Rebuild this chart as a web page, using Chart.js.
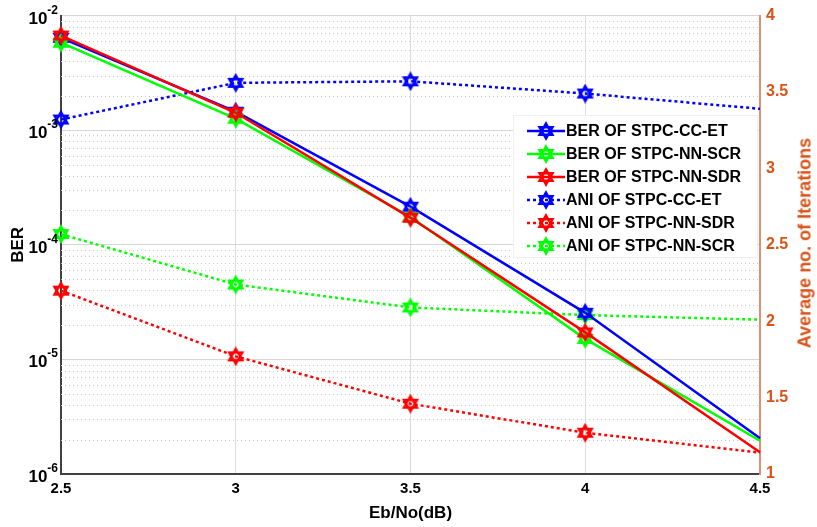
<!DOCTYPE html>
<html lang="en">
<head>
<meta charset="UTF-8" />
<title>BER and ANI vs Eb/No</title>
<script src="https://cdn.jsdelivr.net/npm/chart.js"></script>
<style>
  body { margin: 0; background: #fff; font-family: "Liberation Sans", Arial, sans-serif; }
  #wrap { position: relative; width: 817px; height: 527px; }
  #legend { position: absolute; left: 513px; top: 115px; width: 245px; height: 143px; background: #fff;
            border: 1px solid #efefef; box-sizing: border-box; padding-top: 3px; }
  .row { display: flex; align-items: center; height: 23px; }
  .row canvas { margin-left: 13px; margin-right: 1px; }
  .row span { font-weight: bold; font-size: 16px; color: #000; white-space: nowrap; }
  #rightTitle { position: absolute; left: 805px; top: 243px; transform: translate(-50%, -50%) rotate(-90deg);
                white-space: nowrap; color: #D95319; font-weight: bold; font-size: 18px; }
</style>
</head>
<body>
<div id="wrap">
  <canvas id="berChart"></canvas>
  <div id="legend"></div>
  <div id="rightTitle">Average no. of Iterations</div>
</div>

<script>
  // Eb/No (dB)
  const ebno = [2.5, 3, 3.5, 4, 4.5];

  // BER curves (left log axis)
  const berCCET  = [6.4e-3, 1.45e-3, 2.15e-4, 2.55e-5, 2.05e-6];
  const berNNSCR = [5.8e-3, 1.26e-3, 1.75e-4, 1.51e-5, 1.95e-6];
  const berNNSDR = [6.7e-3, 1.42e-3, 1.72e-4, 1.72e-5, 1.55e-6];

  // average number of iterations (right axis)
  const aniCCET  = [3.32, 3.56, 3.57, 3.49, 3.39];
  const aniNNSDR = [2.20, 1.77, 1.46, 1.27, 1.14];
  const aniNNSCR = [2.57, 2.24, 2.09, 2.04, 2.01];

  const decades = [1e-6, 1e-5, 1e-4, 1e-3, 1e-2];
  const rightTicks = [1, 1.5, 2, 2.5, 3, 3.5, 4];

  const BLUE = '#0000ff', GREEN = '#00ff00', RED = '#ff0000', ORANGE = '#D95319';
  const FONT = '"Liberation Sans", Arial, sans-serif';

  // six-pointed star marker
  function hexagram(color) {
    const c = document.createElement('canvas');
    c.width = 20; c.height = 20;
    const g = c.getContext('2d');
    g.strokeStyle = color;
    g.lineWidth = 2.4;
    const r = 7.5;
    [-90, 90].forEach(start => {
      g.beginPath();
      for (let k = 0; k < 3; k++) {
        const a = (start + k * 120) * Math.PI / 180;
        const px = 10 + r * Math.cos(a), py = 10 + r * Math.sin(a);
        k ? g.lineTo(px, py) : g.moveTo(px, py);
      }
      g.closePath();
      g.stroke();
    });
    return c;
  }

  const pts = arr => arr.map((v, i) => ({ x: ebno[i], y: v }));
  const last = ebno.length - 1;

  function series(label, data, color, dotted, axis, order) {
    return {
      label: label,
      data: pts(data),
      yAxisID: axis,
      borderColor: color,
      backgroundColor: color,
      borderWidth: 2.5,
      borderDash: dotted ? [3, 3] : [],
      borderCapStyle: 'butt',
      pointStyle: hexagram(color),
      pointRadius: ctx => ctx.dataIndex < last ? 6 : 0,
      tension: 0,
      clip: false,
      order: order
    };
  }

  const datasets = [
    series('BER OF STPC-CC-ET', berCCET, BLUE, false, 'y', 3),
    series('BER OF STPC-NN-SCR', berNNSCR, GREEN, false, 'y', 2),
    series('BER OF STPC-NN-SDR', berNNSDR, RED, false, 'y', 1),
    series('ANI OF STPC-CC-ET', aniCCET, BLUE, true, 'y1', 6),
    series('ANI OF STPC-NN-SDR', aniNNSDR, RED, true, 'y1', 4),
    series('ANI OF STPC-NN-SCR', aniNNSCR, GREEN, true, 'y1', 5)
  ];

  const minorTicks = [];
  decades.slice(0, -1).forEach(d => { for (let m = 2; m <= 9; m++) minorTicks.push(d * m); });

  // dotted minor grid and 10^n labels on the log axis
  const logAxisExtras = {
    id: 'logAxisExtras',
    beforeDatasetsDraw(chart) {
      const { ctx, chartArea: a, scales: { y } } = chart;
      ctx.save();
      ctx.strokeStyle = '#c8c8c8';
      ctx.lineWidth = 1;
      ctx.setLineDash([1, 3]);
      minorTicks.forEach(v => {
        const py = Math.round(y.getPixelForValue(v)) + 0.5;
        ctx.beginPath(); ctx.moveTo(a.left, py); ctx.lineTo(a.right, py); ctx.stroke();
      });
      ctx.restore();
    },
    afterDraw(chart) {
      const { ctx, chartArea: a, scales: { y } } = chart;
      ctx.save();
      ctx.fillStyle = '#000';
      ctx.textBaseline = 'alphabetic';
      ctx.textAlign = 'left';
      decades.forEach(v => {
        const py = y.getPixelForValue(v);
        const exp = String(Math.round(Math.log10(v)));
        ctx.font = 'bold 12px ' + FONT;
        const ew = ctx.measureText(exp).width;
        ctx.font = 'bold 17px ' + FONT;
        const bw = ctx.measureText('10').width;
        const xr = a.left - 3;
        ctx.fillText('10', xr - ew - bw, py + 8);
        ctx.font = 'bold 12px ' + FONT;
        ctx.fillText(exp, xr - ew, py - 2);
      });
      ctx.restore();
    }
  };

  const tickFont = { family: FONT, size: 15, weight: 'bold' };
  const titleFont = { family: FONT, size: 17, weight: 'bold' };

  new Chart(document.getElementById('berChart'), {
    type: 'line',
    data: { datasets: datasets },
    options: {
      responsive: true,
      maintainAspectRatio: false,
      animation: false,
      layout: { padding: { top: 13 } },
      plugins: { legend: { display: false }, tooltip: { enabled: false } },
      scales: {
        x: {
          type: 'linear',
          min: 2.5, max: 4.5,
          ticks: { stepSize: 0.5, color: '#000', font: tickFont, padding: 6, callback: v => String(v) },
          grid: { color: '#dcdcdc', drawTicks: false },
          border: { color: '#404040', width: 2 },
          title: { display: true, text: 'Eb/No(dB)', color: '#000', font: titleFont, padding: { top: 0, bottom: 3 } },
          afterFit: s => { s.height = 53; }
        },
        y: {
          type: 'logarithmic',
          position: 'left',
          min: 1e-6, max: 1e-2,
          afterBuildTicks: s => { s.ticks = decades.map(v => ({ value: v })); },
          ticks: { display: false },
          grid: { color: '#d6d6d6', drawTicks: false },
          border: { color: '#404040', width: 2 },
          title: { display: true, text: 'BER', color: '#000', font: titleFont, padding: { top: 8, bottom: 0 } },
          afterFit: s => { s.width = 61; }
        },
        y1: {
          type: 'linear',
          position: 'right',
          min: 1, max: 4,
          afterBuildTicks: s => { s.ticks = rightTicks.map(v => ({ value: v })); },
          ticks: { color: ORANGE, font: { family: FONT, size: 16, weight: 'bold' }, padding: 6, callback: v => String(v) },
          grid: { drawOnChartArea: false, drawTicks: false },
          border: { color: '#e09070', width: 2 },
          afterFit: s => { s.width = 57; }
        }
      }
    },
    plugins: [logAxisExtras]
  });

  // legend inside the plot, built from the datasets
  const legend = document.getElementById('legend');
  datasets.forEach(ds => {
    const row = document.createElement('div');
    row.className = 'row';
    const c = document.createElement('canvas');
    c.width = 38; c.height = 20;
    const g = c.getContext('2d');
    g.strokeStyle = ds.borderColor;
    g.lineWidth = ds.borderWidth;
    g.setLineDash(ds.borderDash);
    g.beginPath(); g.moveTo(0, 10); g.lineTo(38, 10); g.stroke();
    g.drawImage(ds.pointStyle, 19 - 10, 10 - 10);
    const t = document.createElement('span');
    t.textContent = ds.label;
    row.appendChild(c);
    row.appendChild(t);
    legend.appendChild(row);
  });
</script>
</body>
</html>
